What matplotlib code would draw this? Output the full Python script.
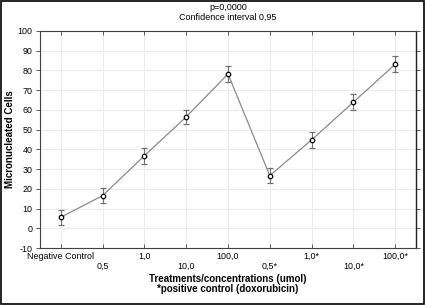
import matplotlib
matplotlib.use("Agg")
import matplotlib.pyplot as plt
from matplotlib.patches import Rectangle

categories = ["Negative Control", "0,5", "1,0", "10,0", "100,0", "0,5*", "1,0*", "10,0*", "100,0*"]
means = [5.6, 16.6, 36.8, 56.5, 78.2, 26.7, 44.8, 63.9, 83.1]
lower = [1.7, 12.6, 32.8, 52.7, 74.3, 22.8, 40.8, 60.0, 79.0]
upper = [9.5, 20.3, 40.6, 60.2, 82.2, 30.5, 48.8, 67.9, 87.1]
yticks = list(range(-10, 101, 10))

plt.rcParams['font.family'] = ['Liberation Sans', 'DejaVu Sans']

fig = plt.figure(figsize=(4.25, 3.05), dpi=100)
fig.patches.append(Rectangle((0.002, 0.003), 0.995, 0.994, transform=fig.transFigure,
                             fill=False, edgecolor='black', linewidth=1.2))
ax = fig.add_axes([40/425, 1-248/305, 376/425, 217/305])

x = list(range(len(categories)))
yerr = [[m - l for m, l in zip(means, lower)], [u - m for m, u in zip(means, upper)]]
ax.errorbar(x, means, yerr=yerr, fmt='o', color='#8a8a8a', ecolor='#707070',
            elinewidth=0.8, capsize=2.5, capthick=0.8, markersize=3.2,
            markerfacecolor='white', markeredgecolor='black', markeredgewidth=0.9,
            linestyle='-', linewidth=0.9, zorder=3)

ax.set_xlim(-0.5, len(categories) - 0.5)
ax.set_ylim(-10, 100)
ax.set_yticks(yticks)
ax.set_yticklabels([str(v) for v in yticks], fontsize=6.4)
ax.set_xticks(x)
ax.set_xticklabels([])
for i, c in enumerate(categories):
    off = 0 if i % 2 == 0 else -6.8
    ax.annotate(c, xy=(i, -10), xycoords='data', xytext=(0, -3 + off), textcoords='offset points',
                ha='center', va='top', fontsize=6.4)
ax.grid(True, color='#ececec', linewidth=0.8)
ax.set_axisbelow(True)
ax.tick_params(axis='both', direction='out', length=3, width=0.6, color='#404040', pad=2.5)
ax.tick_params(axis='x', top=True, direction='in')
ax.tick_params(axis='y', right=True, left=True)
for s in ax.spines.values():
    s.set_color('#404040')
    s.set_linewidth(0.8)
ax.spines['right'].set_color('#202020')
ax.spines['right'].set_linewidth(1.0)

fig.text(10/425, 1 - 139.5/305, "Micronucleated Cells", rotation=90, ha='center', va='center',
         fontsize=7, fontweight='bold')
cx = 0.5 * (40 + 416) / 425
fig.text(cx, 1 - 279/305, "Treatments/concentrations (umol)", ha='center', va='center',
         fontsize=7, fontweight='bold')
fig.text(cx, 1 - 288.5/305, "*positive control (doxorubicin)", ha='center', va='center',
         fontsize=7, fontweight='bold')
fig.text(cx, 1 - 7/305, "p=0,0000", ha='center', va='center', fontsize=6.5)
fig.text(cx, 1 - 17/305, "Confidence interval 0,95", ha='center', va='center', fontsize=6.5)

fig.savefig("out.png", dpi=100)
